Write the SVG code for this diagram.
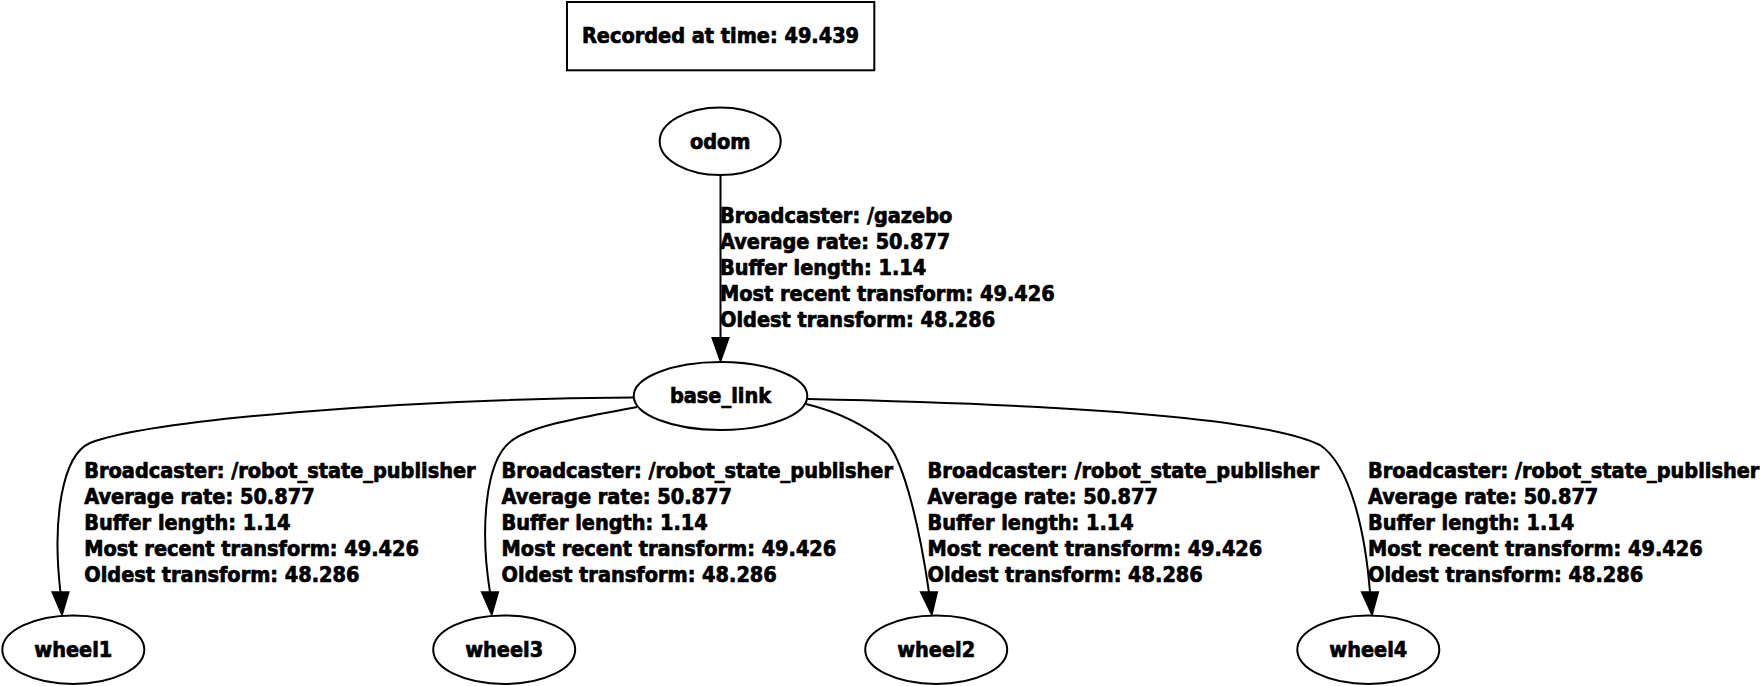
<svg xmlns="http://www.w3.org/2000/svg" width="1762" height="686" viewBox="0 0 1762 686">
<style>
text { font-family: "DejaVu Sans Condensed", "DejaVu Sans", sans-serif; font-stretch: condensed; font-weight: bold; font-size: 21.5px; fill: #000; stroke: #000; stroke-width: 0.7px; }
.n { text-anchor: middle; }
.shape { fill: #fff; stroke: #000; stroke-width: 2; }
.edge { fill: none; stroke: #000; stroke-width: 2; }
.head { fill: #000; stroke: #000; stroke-width: 2; stroke-linejoin: miter; }
</style>
<rect width="1762" height="686" fill="#fff"/>
<g id="recorded">
<rect class="shape" x="567" y="2" width="307.3" height="68.3"/>
<text class="n" x="720.5" y="43.3">Recorded at time: 49.439</text>
</g>
<g id="connectors">
<path class="edge" d="M720.5,176 L720.5,338"/>
<polygon class="head" points="712.5,338 728.5,338 720.5,360.7"/>
<path class="edge" d="M633,397.5 C400,399 150,420 90,443 C62,455 52,520 60.5,592.3"/>
<polygon class="head" points="52.5,592.3 68.5,592.3 62,614.3"/>
<path class="edge" d="M637,407 C590,416 530,425 510,442 C485,462 480,530 490,592.3"/>
<polygon class="head" points="482,592.3 498,592.3 491.7,614.3"/>
<path class="edge" d="M806,404 C835,411 865,425 888,444 C905,465 920,530 929,592.3"/>
<polygon class="head" points="921,592.3 937,592.3 931.7,614.3"/>
<path class="edge" d="M808,399 C950,402 1250,410 1320,445 C1350,465 1365,530 1370,592.3"/>
<polygon class="head" points="1362,592.3 1378,592.3 1372,614.3"/>
</g>
<g id="edge-labels">
<text x="720" y="223.3">Broadcaster: /gazebo</text>
<text x="720" y="249.2">Average rate: 50.877</text>
<text x="720" y="275.1">Buffer length: 1.14</text>
<text x="720" y="301">Most recent transform: 49.426</text>
<text x="720" y="326.9">Oldest transform: 48.286</text>
<text x="84.3" y="478.3">Broadcaster: /robot_state_publisher</text>
<text x="84.3" y="504.2">Average rate: 50.877</text>
<text x="84.3" y="530.1">Buffer length: 1.14</text>
<text x="84.3" y="556">Most recent transform: 49.426</text>
<text x="84.3" y="581.9">Oldest transform: 48.286</text>
<text x="501.6" y="478.3">Broadcaster: /robot_state_publisher</text>
<text x="501.6" y="504.2">Average rate: 50.877</text>
<text x="501.6" y="530.1">Buffer length: 1.14</text>
<text x="501.6" y="556">Most recent transform: 49.426</text>
<text x="501.6" y="581.9">Oldest transform: 48.286</text>
<text x="927.6" y="478.3">Broadcaster: /robot_state_publisher</text>
<text x="927.6" y="504.2">Average rate: 50.877</text>
<text x="927.6" y="530.1">Buffer length: 1.14</text>
<text x="927.6" y="556">Most recent transform: 49.426</text>
<text x="927.6" y="581.9">Oldest transform: 48.286</text>
<text x="1368" y="478.3">Broadcaster: /robot_state_publisher</text>
<text x="1368" y="504.2">Average rate: 50.877</text>
<text x="1368" y="530.1">Buffer length: 1.14</text>
<text x="1368" y="556">Most recent transform: 49.426</text>
<text x="1368" y="581.9">Oldest transform: 48.286</text>
</g>
<g id="odom">
<ellipse class="shape" cx="720.2" cy="141.3" rx="60.5" ry="33.7"/>
<text class="n" x="720.2" y="149">odom</text>
</g>
<g id="base_link">
<ellipse class="shape" cx="720.5" cy="396" rx="86.8" ry="34"/>
<text class="n" x="720.5" y="403.3">base_link</text>
</g>
<g id="wheel1">
<ellipse class="shape" cx="73.3" cy="649.7" rx="71" ry="34.3"/>
<text class="n" x="73.3" y="657.3">wheel1</text>
</g>
<g id="wheel3">
<ellipse class="shape" cx="504.2" cy="649.7" rx="71" ry="34.3"/>
<text class="n" x="504.2" y="657.3">wheel3</text>
</g>
<g id="wheel2">
<ellipse class="shape" cx="936.2" cy="649.7" rx="71" ry="34.3"/>
<text class="n" x="936.2" y="657.3">wheel2</text>
</g>
<g id="wheel4">
<ellipse class="shape" cx="1368.3" cy="649.7" rx="71" ry="34.3"/>
<text class="n" x="1368.3" y="657.3">wheel4</text>
</g>
</svg>
